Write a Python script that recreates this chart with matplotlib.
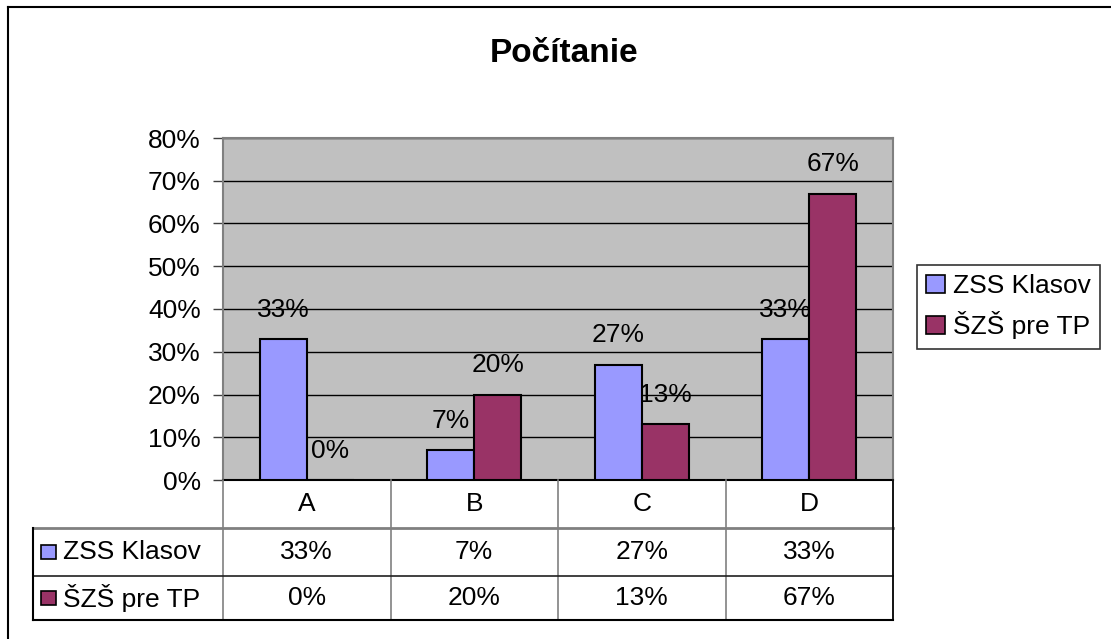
import numpy as np
import matplotlib
matplotlib.use("Agg")
import matplotlib.pyplot as plt
from matplotlib.patches import Rectangle, Patch
from matplotlib.lines import Line2D

plt.rcParams['font.family'] = ['Liberation Sans', 'DejaVu Sans']

# data
categories = ["A", "B", "C", "D"]
series_names = ["ZSS Klasov", "ŠZŠ pre TP"]
zss_klasov = [33, 7, 27, 33]
szs_pre_tp = [0, 20, 13, 67]
series_values = [zss_klasov, szs_pre_tp]
colors = ["#9999FF", "#993366"]
title = "Počítanie"

W, H = 1111, 639


def box(l, t, r, b):
    # pixel box -> figure fraction
    return [l / W, 1 - b / H, (r - l) / W, (b - t) / H]


fig = plt.figure(figsize=(W / 100, H / 100), dpi=100)
fs = 19

# outer chart frame: only left and top edges are visible
fig.add_artist(Line2D([8 / W, 8 / W], [0, 1 - 7 / H], transform=fig.transFigure, color="black", lw=1.5))
fig.add_artist(Line2D([8 / W, 1], [1 - 7 / H, 1 - 7 / H], transform=fig.transFigure, color="black", lw=1.5))

fig.text(564 / W, 1 - 62 / H, title, ha="center", va="baseline", fontsize=24, fontweight="bold")

ax = fig.add_axes(box(223, 138, 893, 480))
ax.set_facecolor("#C0C0C0")
x = np.arange(len(categories))
bw = 0.28
for i, vals in enumerate(series_values):
    xs = x + (i - 0.5) * bw
    v = np.array(vals) / 100
    ax.bar(xs, v, width=bw, color=colors[i], edgecolor="black", linewidth=1.5, zorder=3)
    for xi, vi, raw in zip(xs, v, vals):
        ax.annotate(f"{raw}%", (xi, vi), xytext=(0, 21), textcoords="offset points",
                    ha="center", va="center", fontsize=fs, zorder=4)

ax.set_xlim(-0.5, 3.5)
ax.set_ylim(0, 0.8)
yt = np.arange(0, 0.81, 0.1)
ax.set_yticks(yt)
ax.set_yticklabels([f"{int(round(t * 100))}%" for t in yt], fontsize=fs)
ax.set_xticks([])
ax.yaxis.grid(True, color="black", lw=1)
ax.set_axisbelow(True)
ax.tick_params(axis="y", length=7, width=1, color="#404040", pad=9)
for s in ["top", "right", "left"]:
    ax.spines[s].set_color("#808080")
    ax.spines[s].set_linewidth(1.5)
ax.spines["bottom"].set_color("black")
ax.spines["bottom"].set_linewidth(1.5)

# data table under the chart
lab_w = 190 / 167.5
tax = fig.add_axes(box(33, 480, 893, 620))
tax.set_xlim(-0.5 - lab_w, 3.5)
tax.set_ylim(140, 0)
tax.axis("off")
rows = [0, 48, 96, 140]
gray = "#808080"
for b in np.arange(-0.5, 3.6, 1.0):
    tax.plot([b, b], [0, 140], color=gray, lw=1.2, clip_on=False)
tax.plot([-0.5 - lab_w, 3.5], [48, 48], color=gray, lw=2, clip_on=False)
tax.plot([-0.5 - lab_w, 3.5], [96, 96], color="#202020", lw=1.2, clip_on=False)
tax.plot([-0.5 - lab_w, 3.5], [140, 140], color="black", lw=1.5, clip_on=False)
tax.plot([-0.5 - lab_w, -0.5 - lab_w], [48, 140], color="black", lw=1.5, clip_on=False)
tax.plot([3.5, 3.5], [0, 140], color="black", lw=1.2, clip_on=False)

for i, c in enumerate(categories):
    tax.text(i, 24, c, ha="center", va="center", fontsize=fs)
for r, (name, vals) in enumerate(zip(series_names, series_values)):
    yc = (rows[r + 1] + rows[r + 2]) / 2
    tax.add_patch(Rectangle((-0.5 - lab_w + 8 / 167.5, yc - 7), 15 / 167.5, 14,
                            fc=colors[r], ec="black", lw=1.2, clip_on=False))
    tax.text(-0.5 - lab_w + 30 / 167.5, yc, name, ha="left", va="center", fontsize=fs)
    for i, v in enumerate(vals):
        tax.text(i, yc, f"{v}%", ha="center", va="center", fontsize=fs)

handles = [Patch(fc=colors[i], ec="black", lw=1.2, label=series_names[i]) for i in range(2)]
leg = fig.legend(handles=handles, loc="upper left", bbox_to_anchor=(917 / W, 1 - 265 / H),
                 borderaxespad=0, fontsize=fs, frameon=True, fancybox=False,
                 handlelength=0.7, handleheight=0.7, handletextpad=0.3,
                 borderpad=0.35, labelspacing=0.5)
leg.get_frame().set_edgecolor("black")
leg.get_frame().set_linewidth(1.2)

fig.savefig("out.png", dpi=100)
